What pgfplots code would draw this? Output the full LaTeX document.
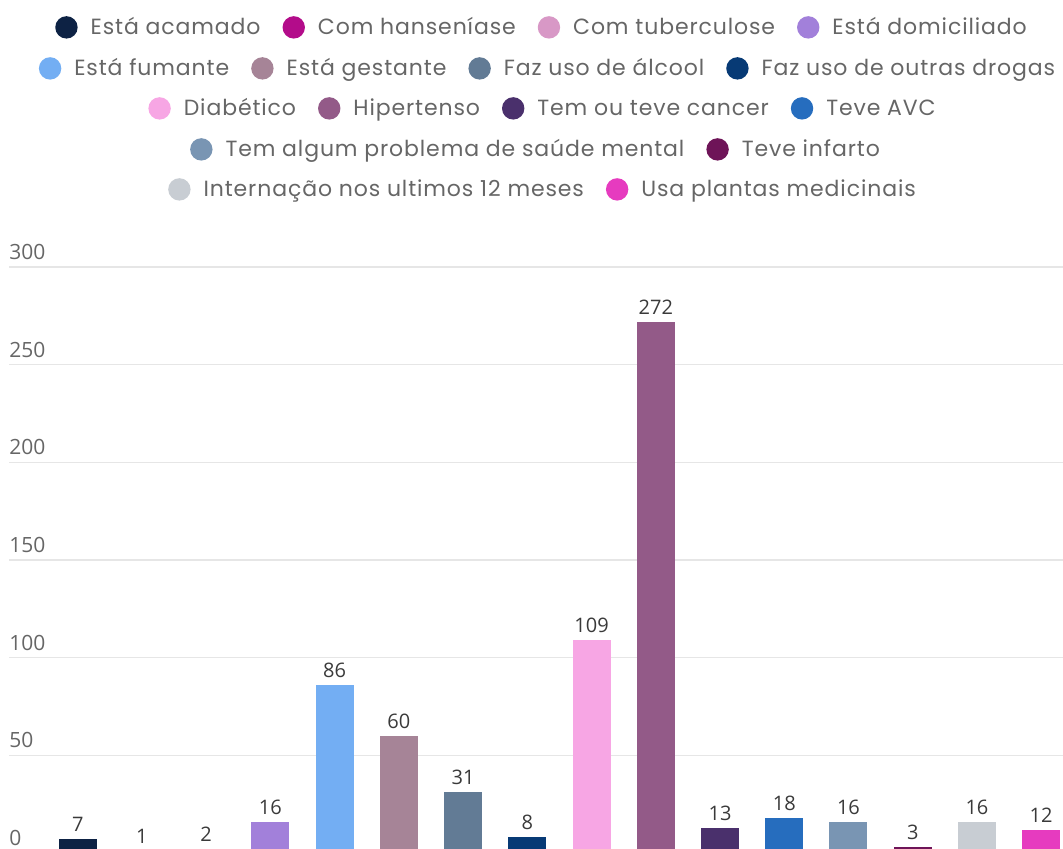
\documentclass[border=0pt]{standalone}
\usepackage{pgfplots}
\pgfplotsset{compat=1.18}
\usepackage{fontspec}
\setmainfont{Open Sans}
\newfontfamily\legfont[LetterSpace=4]{Poppins}
\definecolor{c1}{HTML}{0D2244}
\definecolor{c2}{HTML}{B30C8A}
\definecolor{c3}{HTML}{D898C6}
\definecolor{c4}{HTML}{A280DA}
\definecolor{c5}{HTML}{73AEF3}
\definecolor{c6}{HTML}{A68497}
\definecolor{c7}{HTML}{627B95}
\definecolor{c8}{HTML}{073A75}
\definecolor{c9}{HTML}{F7A6E4}
\definecolor{c10}{HTML}{935A88}
\definecolor{c11}{HTML}{4A306C}
\definecolor{c12}{HTML}{266DBE}
\definecolor{c13}{HTML}{7995B3}
\definecolor{c14}{HTML}{6E1458}
\definecolor{c15}{HTML}{C8CDD3}
\definecolor{c16}{HTML}{E63BBF}
\definecolor{legtext}{HTML}{666666}
\definecolor{ticktext}{HTML}{666666}
\definecolor{valtext}{HTML}{3A3A3A}
\definecolor{gridc}{HTML}{E6E6E6}
\newcommand{\dotc}[1]{\tikz[baseline=-3.8pt]\fill[#1] (0,0) circle (5.6pt);}
\newcommand{\li}[2]{\dotc{#1}\hspace{6.5pt}#2}
\newcommand{\gap}{\hspace{11pt}}
\begin{document}
\begin{tikzpicture}
\clip (0,0) rectangle (531.5pt,424.5pt);
\begin{axis}[
  at={(4.5pt,-2pt)}, anchor=south west,
  scale only axis, width=527pt, height=293pt,
  xmin=-1.07, xmax=15.34, ymin=0, ymax=300,
  ytick={0,50,100,150,200,250,300},
  xtick=\empty,
  ymajorgrids, grid style={gridc, line width=0.75pt},
  axis line style={draw=none},
  tick style={draw=none},
  /pgf/number format/assume math mode=true,
  yticklabel style={anchor=south west, inner sep=0pt, yshift=3.5pt, xshift=0pt, font=\fontsize{10.5}{12}\selectfont, text=ticktext},
  ybar, bar width=19pt, bar shift=0pt,
  nodes near coords,
  every node near coord/.append style={font=\fontsize{10}{12}\selectfont, text=valtext, anchor=south, inner sep=0pt, yshift=3.5pt},
]
\addplot[fill=c1, draw=none] coordinates {(0,7)};
\addplot[fill=c2, draw=none] coordinates {(1,1)};
\addplot[fill=c3, draw=none] coordinates {(2,2)};
\addplot[fill=c4, draw=none] coordinates {(3,16)};
\addplot[fill=c5, draw=none] coordinates {(4,86)};
\addplot[fill=c6, draw=none] coordinates {(5,60)};
\addplot[fill=c7, draw=none] coordinates {(6,31)};
\addplot[fill=c8, draw=none] coordinates {(7,8)};
\addplot[fill=c9, draw=none] coordinates {(8,109)};
\addplot[fill=c10, draw=none] coordinates {(9,272)};
\addplot[fill=c11, draw=none] coordinates {(10,13)};
\addplot[fill=c12, draw=none] coordinates {(11,18)};
\addplot[fill=c13, draw=none] coordinates {(12,16)};
\addplot[fill=c14, draw=none] coordinates {(13,3)};
\addplot[fill=c15, draw=none] coordinates {(14,16)};
\addplot[fill=c16, draw=none] coordinates {(15,12)};
\end{axis}
\begin{scope}[every node/.style={font=\legfont\fontsize{11}{12}\selectfont, text=legtext, anchor=base, inner sep=0pt}]
\node at (270.5pt,407pt) {\li{c1}{Está acamado}\gap\li{c2}{Com hanseníase}\gap\li{c3}{Com tuberculose}\gap\li{c4}{Está domiciliado}};
\node at (273.5pt,386.5pt) {\li{c5}{Está fumante}\gap\li{c6}{Está gestante}\gap\li{c7}{Faz uso de álcool}\gap\li{c8}{Faz uso de outras drogas}};
\node at (271pt,366.5pt) {\li{c9}{Diabético}\gap\li{c10}{Hipertenso}\gap\li{c11}{Tem ou teve cancer}\gap\li{c12}{Teve AVC}};
\node at (267.5pt,346pt) {\li{c13}{Tem algum problema de saúde mental}\gap\li{c14}{Teve infarto}};
\node at (271pt,326pt) {\li{c15}{Internação nos ultimos 12 meses}\gap\li{c16}{Usa plantas medicinais}};
\end{scope}
\end{tikzpicture}
\end{document}
